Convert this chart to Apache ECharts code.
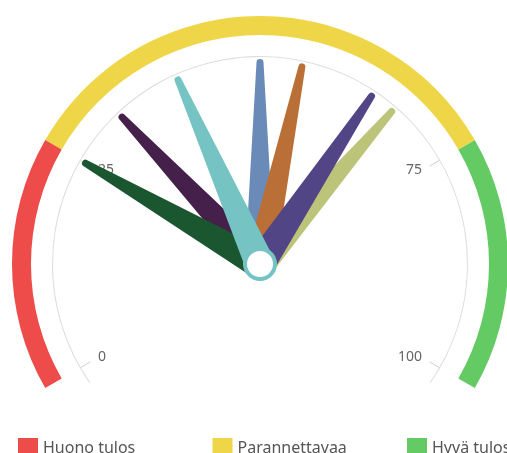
<!DOCTYPE html>
<html>
<head>
<meta charset="utf-8">
<script src="https://cdn.jsdelivr.net/npm/echarts@6/dist/echarts.min.js"></script>
<style>
html,body{margin:0;padding:0;background:#fff;}
#c{width:507px;height:453px;}
</style>
</head>
<body>
<div id="c"></div>
<script>
// Bands
const bandNames = ['Huono tulos', 'Parannettavaa', 'Hyvä tulos'];
const bandEnds = [25, 75, 100];
const bandColors = ['#ee4b4b', '#eed648', '#64cb64'];
// Ticks
const tickLabels = [0, 25, 75, 100];
// Needles (drawing order)
const needleValues = [67, 50, 55, 64, 32, 25, 40];
const needleColors = ['#bcc47a', '#6a8bb8', '#ba6f36', '#524585', '#45204a', '#1a5630', '#75c4c3'];

const axisMin = 0, axisMax = 100;
const center = [260, 264];
const needlePath = 'path://M11.5,3.5 A3.5,3.5 0 0 1 18.5,3.5 L30,206 L0,206 Z';

const hidden = {
  axisTick: { show: false }, splitLine: { show: false }, axisLabel: { show: false },
  pointer: { show: false }, anchor: { show: false }, title: { show: false }, detail: { show: false }
};

function tickSeries(start, end, lo, hi) {
  return {
    type: 'gauge', center: center, radius: 208, startAngle: start, endAngle: end,
    min: lo, max: hi, splitNumber: 1, silent: true,
    axisLine: { show: false, lineStyle: { width: 1 } },
    axisTick: { show: false },
    splitLine: { show: true, length: 11, distance: 0, lineStyle: { color: '#cccccc', width: 1 } },
    axisLabel: { show: true, distance: 10, color: '#666', fontSize: 14, fontFamily: 'Noto Sans' },
    pointer: { show: false }, anchor: { show: false }, title: { show: false }, detail: { show: false },
    data: []
  };
}

const chart = echarts.init(document.getElementById('c'));
chart.setOption({
  animation: false,
  legend: bandNames.map((n, i) => ({
    left: 13 + i * 194.5, top: 433, itemWidth: 20, itemHeight: 20, icon: 'rect',
    textStyle: { fontFamily: 'Noto Sans', fontSize: 16, color: '#555' },
    data: [n]
  })),
  series: [
    Object.assign({
      type: 'gauge', center: center, radius: 248, startAngle: 210, endAngle: -30,
      min: axisMin, max: axisMax, silent: true,
      axisLine: { lineStyle: { width: 19, color: bandEnds.map((e, i) => [(e - axisMin) / (axisMax - axisMin), bandColors[i]]) } },
      data: []
    }, hidden),
    Object.assign({
      type: 'gauge', center: center, radius: 208, startAngle: 215, endAngle: -35,
      min: axisMin, max: axisMax, silent: true,
      axisLine: { lineStyle: { width: 1, color: [[1, '#dddddd']] } },
      data: []
    }, hidden),
    tickSeries(210, 150, tickLabels[0], tickLabels[1]),
    tickSeries(30, -30, tickLabels[2], tickLabels[3]),
    {
      type: 'gauge', center: center, radius: 208, startAngle: 210, endAngle: -30,
      min: axisMin, max: axisMax, silent: true,
      axisLine: { show: false, lineStyle: { width: 1 } },
      axisTick: { show: false }, splitLine: { show: false }, axisLabel: { show: false },
      pointer: { show: true, icon: needlePath, width: 30, length: 205, offsetCenter: [0, 0], keepAspect: false },
      anchor: { show: true, showAbove: true, size: 30, itemStyle: { color: '#ffffff', borderColor: '#75c4c3', borderWidth: 4 } },
      title: { show: false }, detail: { show: false },
      data: needleValues.map((v, i) => ({ value: v, itemStyle: { color: needleColors[i] } }))
    },
    {
      type: 'pie', radius: [0, 0], silent: true, label: { show: false }, labelLine: { show: false },
      data: bandNames.map((n, i) => ({ name: n, value: bandEnds[i], itemStyle: { color: bandColors[i] } }))
    }
  ]
});
</script>
</body>
</html>
